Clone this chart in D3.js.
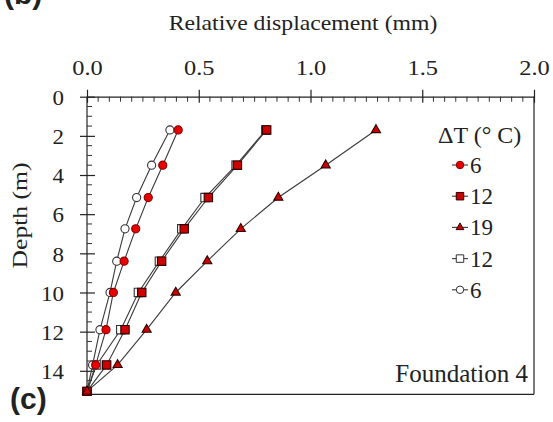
<!DOCTYPE html>
<html>
<head>
<meta charset="utf-8">
<script src="https://cdn.jsdelivr.net/npm/d3@7"></script>
<style>
  html, body { margin: 0; padding: 0; background: #fff; }
  svg { display: block; }
  text { font-family: "Liberation Serif", "Times New Roman", serif; fill: #222; }
</style>
</head>
<body>
<svg id="chart" width="553" height="422"></svg>
<script>
// Measurement depths (m) along the pile
const depths = [1.7, 3.5, 5.15, 6.75, 8.4, 10.0, 11.9, 13.7, 15.05];

// Relative displacement (mm) at each depth, one array per test
const heat6   = [0.408, 0.339, 0.274, 0.218, 0.166, 0.118, 0.085, 0.039, 0.0];
const heat12  = [0.804, 0.673, 0.543, 0.435, 0.334, 0.245, 0.170, 0.088, 0.0];
const heat19  = [1.293, 1.068, 0.856, 0.688, 0.538, 0.397, 0.267, 0.137, 0.0];
const cool12  = [0.800, 0.667, 0.528, 0.424, 0.324, 0.230, 0.151, 0.043, 0.0];
const cool6   = [0.371, 0.289, 0.222, 0.170, 0.133, 0.103, 0.058, 0.025, 0.0];

// Legend entries in display order
const legendLabels = ["6", "12", "19", "12", "6"];

const xTicks = [0, 0.5, 1.0, 1.5, 2.0];
const yTicks = [0, 2, 4, 6, 8, 10, 12, 14];

const svg = d3.select("#chart");
const pLeft = 87, pRight = 534, pTop = 96.7, pBottom = 394.3;

const x = d3.scaleLinear().domain([0, 2]).range([pLeft, pRight]);
const y = d3.scaleLinear().domain([0, 15.2]).range([pTop, pBottom]);

const LINE = "#3a3a3a";

// series definitions: data + marker style (open = cooling, red = heating)
const series = [
  { vals: cool6,  shape: "circle",   fill: "#fff",    stroke: "#333" },
  { vals: cool12, shape: "square",   fill: "#fff",    stroke: "#333" },
  { vals: heat6,  shape: "circle",   fill: "#e60000", stroke: "#8a0000" },
  { vals: heat12, shape: "square",   fill: "#cc0000", stroke: "#300000" },
  { vals: heat19, shape: "triangle", fill: "#cc0000", stroke: "#300000" }
];

const symbolOf = {
  circle: d3.symbol(d3.symbolCircle, 52),
  square: d3.symbol(d3.symbolSquare, 70),
  triangle: d3.symbol(d3.symbolTriangle, 36)
};

// ---- axes ----
const xAxis = d3.axisTop(x).tickValues(xTicks).tickFormat(d3.format(".1f")).tickSize(6).tickSizeOuter(0);
const gx = svg.append("g").attr("transform", `translate(0,${pTop})`).call(xAxis);
gx.select(".domain").attr("stroke", "#222").attr("stroke-width", 1.2);
gx.selectAll(".tick line").attr("y1", 6).attr("y2", -7).attr("stroke", "#222").attr("stroke-width", 1.2);
gx.selectAll(".tick text").attr("y", -22).attr("transform", "scale(1.22,1)")
  .style("font-size", "20px").style("font-family", "Liberation Serif").attr("fill", "#333");

const xMinor = d3.range(0, 2.0001, 0.05).filter(v => Math.abs(v * 2 - Math.round(v * 2)) > 1e-6);
svg.append("g").selectAll("line").data(xMinor).join("line")
  .attr("x1", d => x(d)).attr("x2", d => x(d))
  .attr("y1", pTop).attr("y2", pTop + 5)
  .attr("stroke", "#333").attr("stroke-width", 1);

const yAxis = d3.axisLeft(y).tickValues(yTicks).tickFormat(d3.format("d")).tickSize(7).tickSizeOuter(0);
const gy = svg.append("g").attr("transform", `translate(${pLeft},0)`).call(yAxis);
gy.select(".domain").attr("stroke", "#222").attr("stroke-width", 1.2)
  .attr("d", `M0,${pTop}V${pBottom}`);
gy.selectAll(".tick line").attr("x1", 8).attr("x2", -7).attr("stroke", "#222").attr("stroke-width", 1.2);
gy.selectAll(".tick text").attr("x", -23 / 1.12).attr("dy", "0.38em").attr("transform", "scale(1.12,1)")
  .style("font-size", "20.5px").style("font-family", "Liberation Serif").attr("fill", "#333");

const yMinor = d3.range(0.5, 15.01, 0.5).filter(v => Math.abs(v / 2 - Math.round(v / 2)) > 1e-6);
svg.append("g").selectAll("line").data(yMinor).join("line")
  .attr("x1", pLeft).attr("x2", pLeft + 5)
  .attr("y1", d => y(d)).attr("y2", d => y(d))
  .attr("stroke", "#333").attr("stroke-width", 1);

// frame: right and bottom edges
svg.append("line").attr("x1", pRight).attr("x2", pRight).attr("y1", pTop).attr("y2", pBottom)
  .attr("stroke", "#222").attr("stroke-width", 1.2);
svg.append("line").attr("x1", pLeft).attr("x2", pRight).attr("y1", pBottom).attr("y2", pBottom)
  .attr("stroke", "#222").attr("stroke-width", 1.2);

// ---- axis titles ----
svg.append("text").attr("transform", "translate(303,29.5) scale(1.13,1)").attr("text-anchor", "middle")
  .style("font-size", "21px").text("Relative displacement (mm)");
svg.append("text").attr("transform", "translate(27,215.5) rotate(-90) scale(1.28,1)").attr("text-anchor", "middle")
  .style("font-size", "20px").text("Depth (m)");

// ---- series ----
const line = d3.line().x(d => x(d[0])).y(d => y(d[1]));
series.forEach(s => {
  const pts = s.vals.map((v, i) => [v, depths[i]]);
  svg.append("path").datum(pts).attr("d", line)
    .attr("fill", "none").attr("stroke", LINE).attr("stroke-width", 1.1);
});
series.forEach(s => {
  const pts = s.vals.map((v, i) => [v, depths[i]]);
  svg.append("g").selectAll("path").data(pts).join("path")
    .attr("d", symbolOf[s.shape])
    .attr("transform", d => `translate(${x(d[0])},${y(d[1])})`)
    .attr("fill", s.fill).attr("stroke", s.stroke).attr("stroke-width", 1.1);
});

// ---- legend ----
const legendStyles = [series[2], series[3], series[4], series[1], series[0]];
const lg = svg.append("g");
lg.append("text").attr("x", 438).attr("y", 143).style("font-size", "24px").text("ΔT (° C)");
const legendSym = {
  circle: d3.symbol(d3.symbolCircle, 44),
  square: d3.symbol(d3.symbolSquare, 56),
  triangle: d3.symbol(d3.symbolTriangle, 26)
};
legendLabels.forEach((lab, i) => {
  const cy = 165 + i * 31.2;
  const s = legendStyles[i];
  lg.append("line").attr("x1", 452).attr("x2", 468).attr("y1", cy).attr("y2", cy)
    .attr("stroke", LINE).attr("stroke-width", 1.1);
  lg.append("path").attr("d", legendSym[s.shape]).attr("transform", `translate(460,${cy})`)
    .attr("fill", s.fill).attr("stroke", s.stroke).attr("stroke-width", 1);
  lg.append("text").attr("x", 470).attr("y", cy).attr("dy", "0.35em")
    .style("font-size", "23px").text(lab);
});

svg.append("text").attr("x", 528).attr("y", 382).attr("text-anchor", "end")
  .style("font-size", "25px").text("Foundation 4");

// panel letters
svg.append("text").attr("x", 10).attr("y", 409)
  .style("font-family", "Liberation Sans, Arial, sans-serif").style("font-weight", "bold")
  .style("font-size", "30px").attr("fill", "#111").text("(c)");
svg.append("text").attr("x", 4).attr("y", 4)
  .style("font-family", "Liberation Sans, Arial, sans-serif").style("font-weight", "bold")
  .style("font-size", "30px").attr("fill", "#111").text("(b)");
</script>
</body>
</html>
